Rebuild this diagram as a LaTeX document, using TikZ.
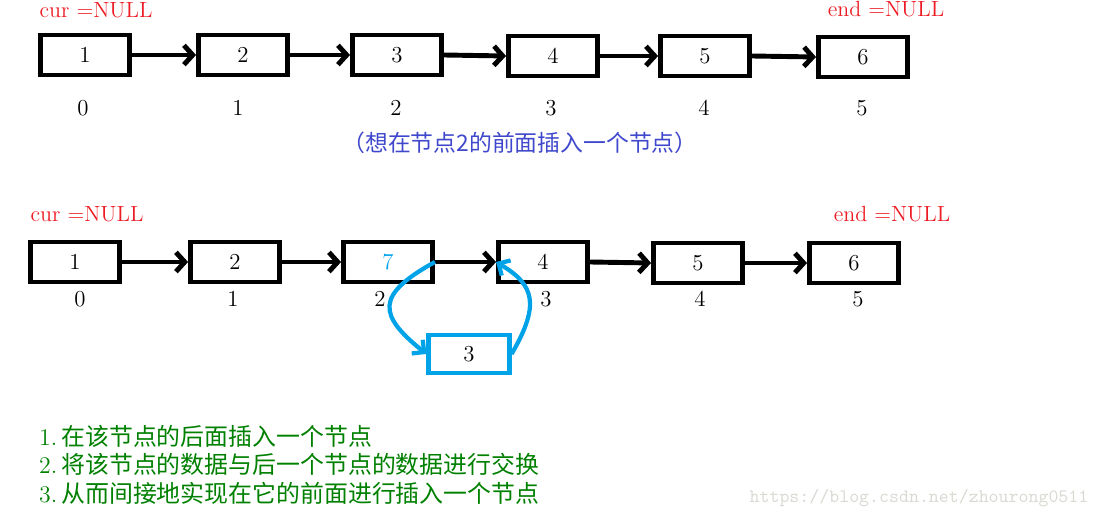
\documentclass[tikz,border=0pt]{standalone}
\usepackage{fontspec}
\newfontfamily\cjk{Noto Sans CJK SC}
\usetikzlibrary{arrows.meta,positioning}
\definecolor{nullred}{RGB}{237,28,36}
\definecolor{notebl}{RGB}{63,72,204}
\definecolor{swapbl}{RGB}{0,162,232}
\definecolor{stepgr}{RGB}{0,128,0}
\definecolor{wmgray}{RGB}{218,218,212}

\begin{document}
\begin{tikzpicture}[x=0.02cm,y=-0.02cm,
    cell/.style={draw,line width=2.8pt,minimum width=1.78cm,minimum height=0.8cm,
      inner sep=0pt,font=\fontsize{13}{15}\selectfont},
    newcell/.style={cell,draw=swapbl,line width=2.4pt,minimum width=1.62cm,minimum height=0.76cm},
    link/.style={line width=2.8pt,-{Straight Barb[length=5pt,width=11pt]}},
    swap/.style={line width=2.4pt,draw=swapbl,-{Straight Barb[length=5pt,width=10pt]}},
    idx/.style={font=\fontsize{13}{15}\selectfont},
    nul/.style={text=nullred,font=\fontsize{12.5}{14}\selectfont},
    stepline/.style={anchor=west,text=stepgr,font=\fontsize{13.6}{16}\selectfont}]
    \useasboundingbox (0,0) rectangle (1100,519);

    % List before insertion
    \node[nul] (cur1) at (96,10) {cur =NULL};
    \node[nul] (end1) at (886,9) {end =NULL};
    \node[cell] (b1) at (85,55) {1};
    \node[cell] (b2) at (243,55) {2};
    \node[cell] (b3) at (397,55) {3};
    \node[cell] (b4) at (553,56) {4};
    \node[cell] (b5) at (705,56) {5};
    \node[cell] (b6) at (863,57) {6};
    \draw[link] (b1.east) -- (b2.west);
    \draw[link] (b2.east) -- (b3.west);
    \draw[link] (b3.east) -- (b4.west);
    \draw[link] (b4.east) -- (b5.west);
    \draw[link] (b5.east) -- (b6.west);
    \node[idx] (p0) at (83,108) {0};
    \node[idx] (p1) at (238,108) {1};
    \node[idx] (p2) at (396,108) {2};
    \node[idx] (p3) at (551,108) {3};
    \node[idx] (p4) at (704,108) {4};
    \node[idx] (p5) at (862,108) {5};
    \node[text=notebl,font=\cjk\fontsize{13}{15}\selectfont] (note) at (520,143)
      {（想在节点2的前面插入一个节点）};

    % List after insertion
    \node[nul] (cur2) at (87,214) {cur =NULL};
    \node[nul] (end2) at (892,214) {end =NULL};
    \node[cell] (c1) at (75,262) {1};
    \node[cell] (c2) at (235,262) {2};
    \node[cell,text=swapbl] (c3) at (388,262) {7};
    \node[cell] (c4) at (543,262) {4};
    \node[cell] (c5) at (698,263) {5};
    \node[cell] (c6) at (854,263) {6};
    \draw[link] (c1.east) -- (c2.west);
    \draw[link] (c2.east) -- (c3.west);
    \draw[link] (c3.east) -- (c4.west);
    \draw[link] (c4.east) -- (c5.west);
    \draw[link] (c5.east) -- (c6.west);
    \node[idx] (q0) at (80,299) {0};
    \node[idx] (q1) at (233,299) {1};
    \node[idx] (q2) at (380,299) {2};
    \node[idx] (q3) at (546,299) {3};
    \node[idx] (q4) at (700,299) {4};
    \node[idx] (q5) at (858,299) {5};

    % new node and its two links
    \node[newcell] (nb) at (469,354) {3};
    \draw[swap] (c3.east) .. controls (375,295) and (378,315) .. (nb.west);
    \draw[swap] (nb.east) .. controls (540,305) and (535,285) .. (c4.west);

    % Steps
    \node[stepline] (s1) at (33,436) {1.\,{\cjk 在该节点的后面插入一个节点}};
    \node[stepline] (s2) at (33,464) {2.\,{\cjk 将该节点的数据与后一个节点的数据进行交换}};
    \node[stepline] (s3) at (33,493) {3.\,{\cjk 从而间接地实现在它的前面进行插入一个节点}};

    \node[text=wmgray,font=\ttfamily\fontsize{10.8}{12}\selectfont] (wm) at (919,498)
      {https://blog.csdn.net/zhourong0511};
\end{tikzpicture}
\end{document}
